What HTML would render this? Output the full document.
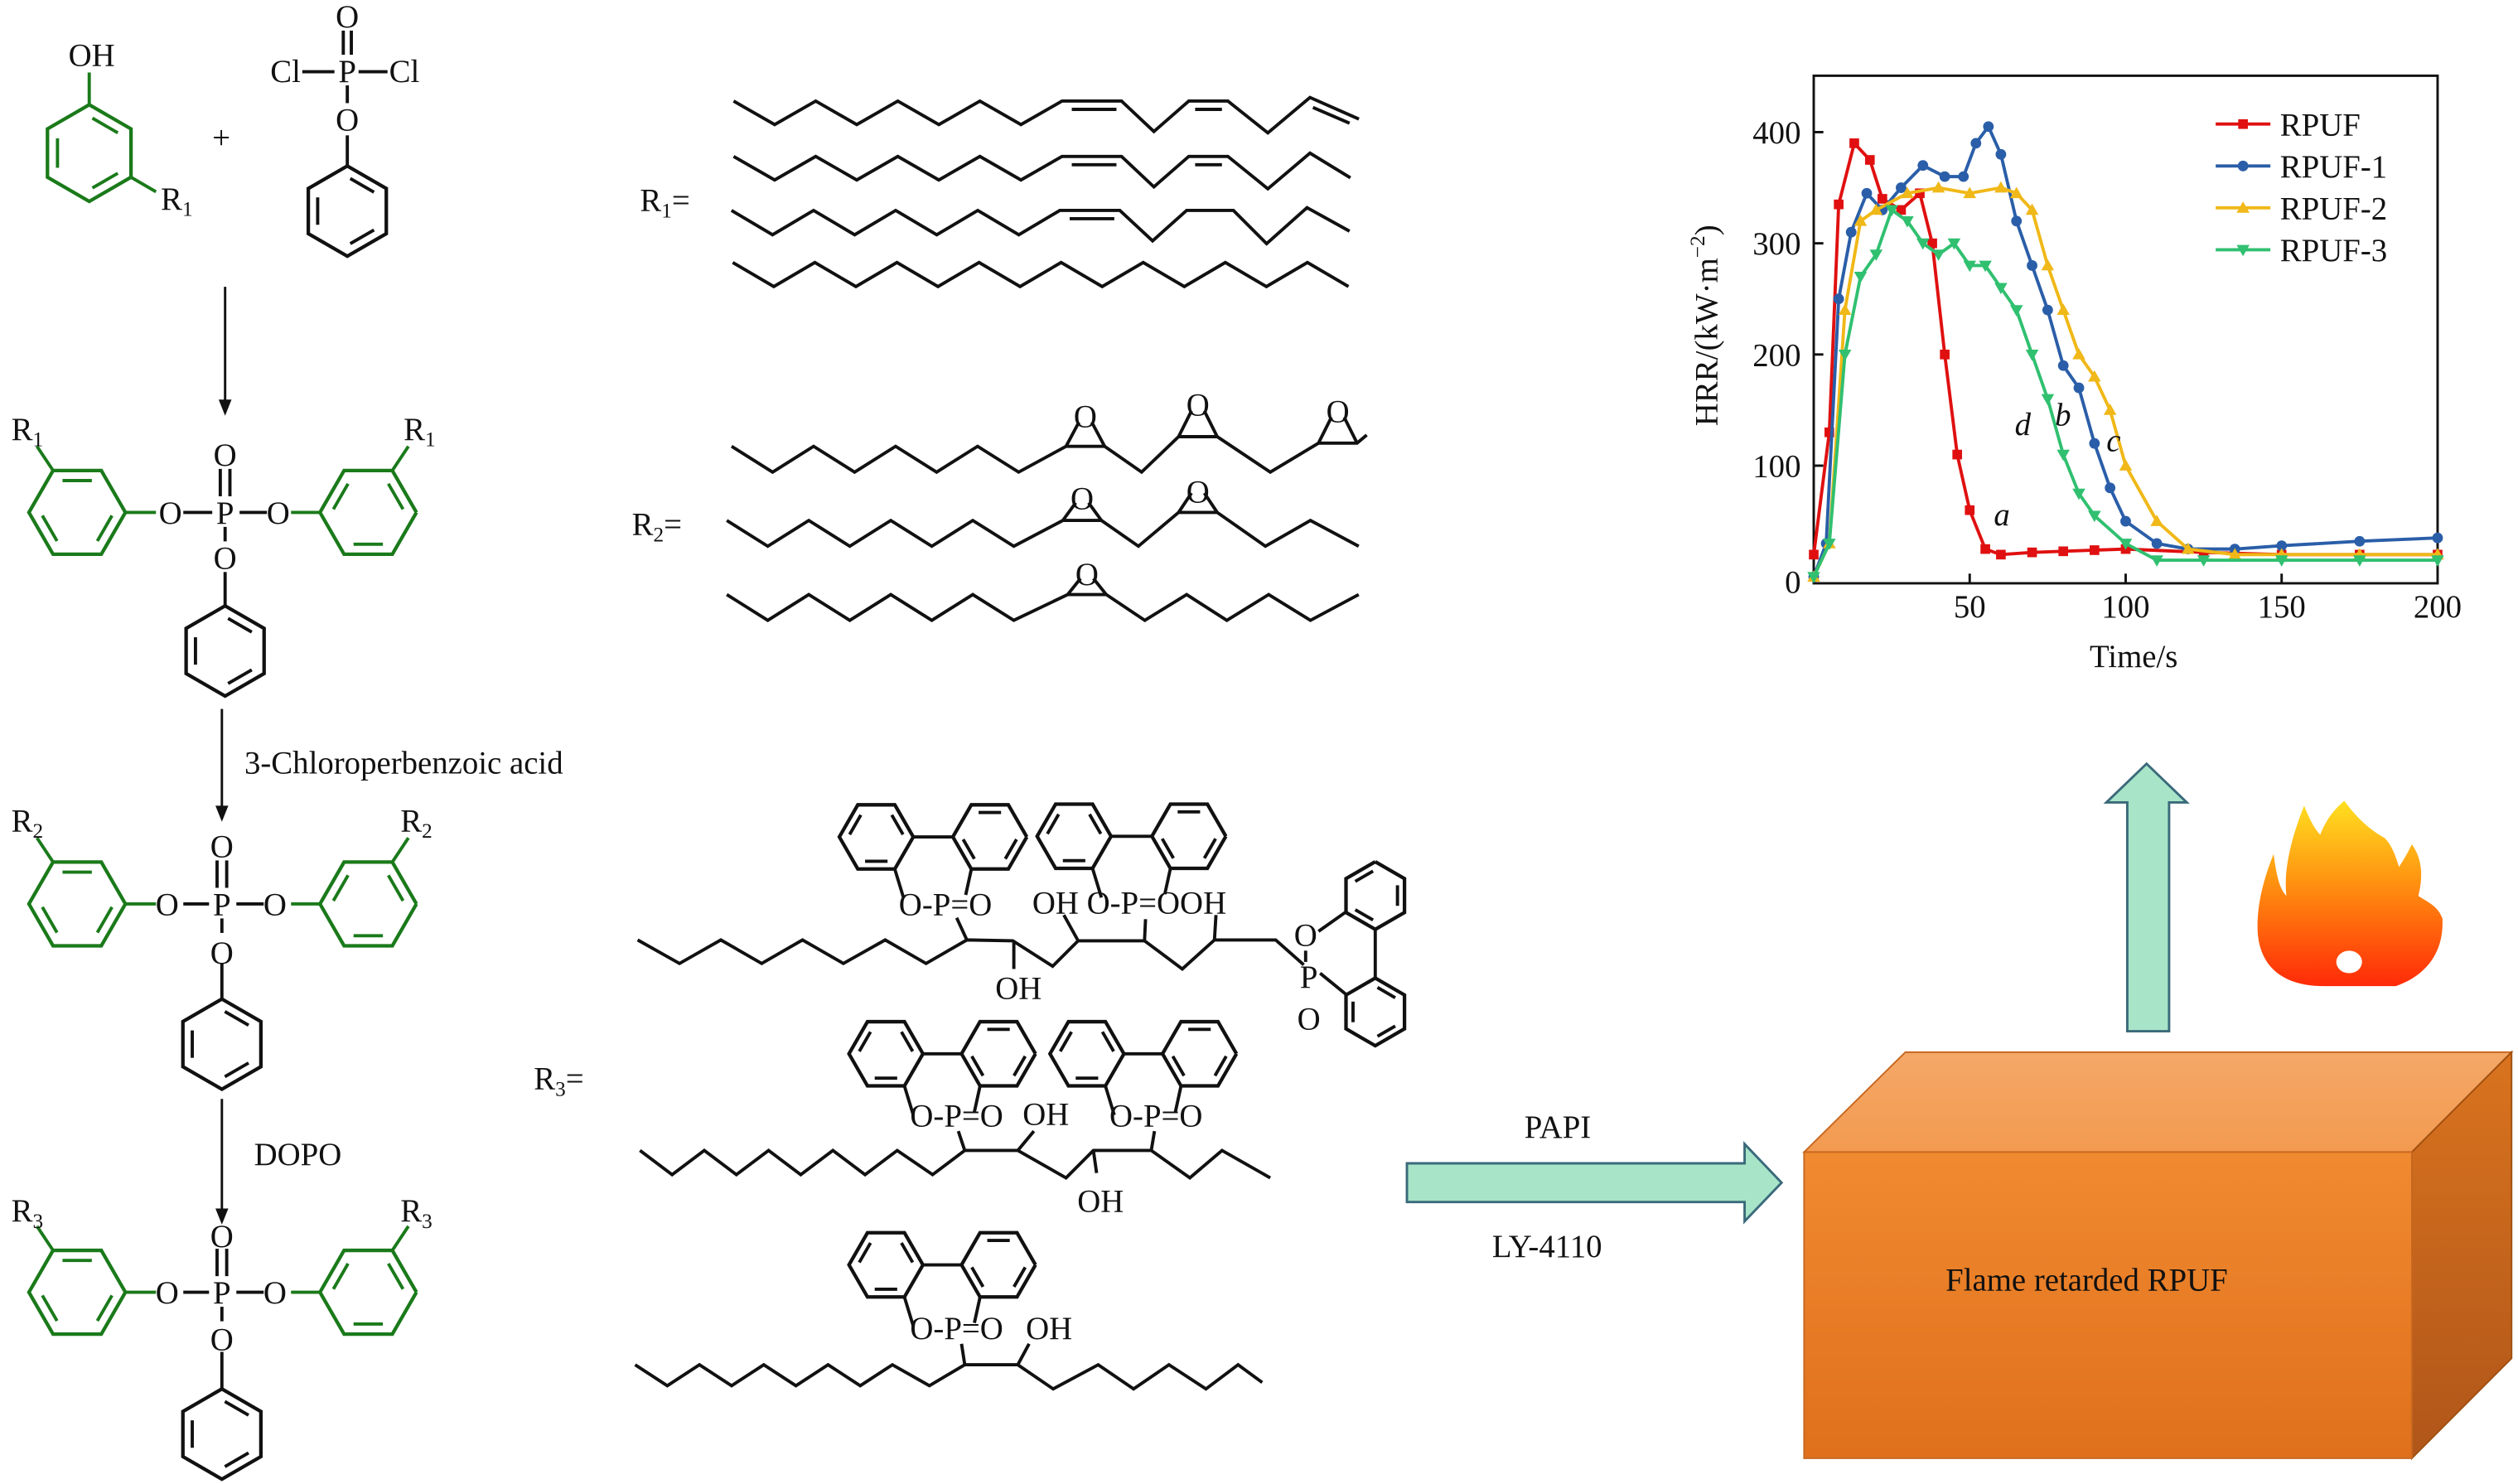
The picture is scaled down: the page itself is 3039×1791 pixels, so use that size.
<!DOCTYPE html>
<html><head><meta charset="utf-8">
<style>
html,body{margin:0;padding:0;background:#fff;}
svg{display:block;}
svg text{font-family:"Liberation Serif",serif;fill:#111;}
</style></head>
<body>
<svg id="s" width="3039" height="1791" viewBox="0 0 1566 921" preserveAspectRatio="none" xmlns="http://www.w3.org/2000/svg" font-family="Liberation Serif, serif">
<defs>
<linearGradient id="gf" x1="0" y1="0" x2="0" y2="1"><stop offset="0" stop-color="#f08a30"/><stop offset="1" stop-color="#e0701c"/></linearGradient>
<linearGradient id="gt" x1="0" y1="0" x2="0" y2="1"><stop offset="0" stop-color="#f4a868"/><stop offset="1" stop-color="#f39a50"/></linearGradient>
<linearGradient id="gs" x1="0" y1="0" x2="0" y2="1"><stop offset="0" stop-color="#d9731e"/><stop offset="1" stop-color="#b0561a"/></linearGradient>
<linearGradient id="fl" x1="0" y1="0" x2="0" y2="1"><stop offset="0" stop-color="#ffe020"/><stop offset="0.45" stop-color="#ff9010"/><stop offset="1" stop-color="#ff2a08"/></linearGradient>
</defs>
<g id="g"></g>
<g font-size="20" font-family="Liberation Serif, serif">
<text x="57" y="41" text-anchor="middle">OH</text>
<text x="100" y="130">R<tspan font-size="13" dy="4">1</tspan></text>
<text x="132" y="92">+</text>
<text x="187" y="51" text-anchor="end">Cl</text>
<text x="216" y="17" text-anchor="middle">O</text>
<text x="216" y="51" text-anchor="middle">P</text>
<text x="242" y="51">Cl</text>
<text x="216" y="81" text-anchor="middle">O</text>

<text x="152" y="480">3-Chloroperbenzoic acid</text>
<text x="158" y="723">DOPO</text>

<text x="398" y="131">R<tspan font-size="13" dy="4">1</tspan><tspan dy="-4">=</tspan></text>
<text x="393" y="332">R<tspan font-size="13" dy="4">2</tspan><tspan dy="-4">=</tspan></text>
<text x="332" y="676">R<tspan font-size="13" dy="4">3</tspan><tspan dy="-4">=</tspan></text>

<text x="675" y="265" text-anchor="middle">O</text><text x="745" y="258" text-anchor="middle">O</text><text x="832" y="262" text-anchor="middle">O</text>
<text x="673" y="316" text-anchor="middle">O</text><text x="745" y="312" text-anchor="middle">O</text>
<text x="676" y="363" text-anchor="middle">O</text>

<text x="559" y="568">O-P=O</text>
<text x="642" y="567">OH O-P=OOH</text>
<text x="619" y="620">OH</text>
<text x="812" y="587" text-anchor="middle">O</text><text x="814" y="613" text-anchor="middle">P</text><text x="814" y="639" text-anchor="middle">O</text>
<text x="566" y="699">O-P=O</text>
<text x="636" y="698">OH</text>
<text x="690" y="699">O-P=O</text>
<text x="670" y="752">OH</text>
<text x="566" y="831">O-P=O</text>
<text x="638" y="831">OH</text>

<text x="948" y="706">PAPI</text>
<text x="928" y="780">LY-4110</text>
<text x="1210" y="801">Flame retarded RPUF</text>
</g>
<g font-size="20" font-family="Liberation Serif, serif">
<text x="1120" y="89" text-anchor="end">400</text>
<text x="1120" y="158" text-anchor="end">300</text>
<text x="1120" y="227" text-anchor="end">200</text>
<text x="1120" y="296" text-anchor="end">100</text>
<text x="1120" y="368" text-anchor="end">0</text>
<text x="1225" y="383" text-anchor="middle">50</text>
<text x="1322" y="383" text-anchor="middle">100</text>
<text x="1419" y="383" text-anchor="middle">150</text>
<text x="1516" y="383" text-anchor="middle">200</text>
<text x="1327" y="414" text-anchor="middle">Time/s</text>
<text transform="translate(1068,202) rotate(-90)" text-anchor="middle">HRR/(kW·m<tspan font-size="13" dy="-8">−2</tspan><tspan dy="8">)</tspan></text>
<text x="1418" y="84">RPUF</text>
<text x="1418" y="110">RPUF-1</text>
<text x="1418" y="136">RPUF-2</text>
<text x="1418" y="162">RPUF-3</text>
<g font-style="italic"><text x="1240" y="326">a</text><text x="1278" y="264">b</text><text x="1310" y="280">c</text><text x="1253" y="270">d</text></g>
</g>
<g font-size="20" font-family="Liberation Serif, serif">
<text x="7" y="273">R<tspan font-size="13" dy="4">1</tspan></text><text x="251" y="273">R<tspan font-size="13" dy="4">1</tspan></text>
<text x="140" y="289" text-anchor="middle">O</text><text x="106" y="325" text-anchor="middle">O</text><text x="140" y="325" text-anchor="middle">P</text><text x="173" y="325" text-anchor="middle">O</text><text x="140" y="353" text-anchor="middle">O</text>
<text x="7" y="516">R<tspan font-size="13" dy="4">2</tspan></text><text x="249" y="516">R<tspan font-size="13" dy="4">2</tspan></text>
<text x="138" y="532" text-anchor="middle">O</text><text x="104" y="568" text-anchor="middle">O</text><text x="138" y="568" text-anchor="middle">P</text><text x="171" y="568" text-anchor="middle">O</text><text x="138" y="598" text-anchor="middle">O</text>
<text x="7" y="758">R<tspan font-size="13" dy="4">3</tspan></text><text x="249" y="758">R<tspan font-size="13" dy="4">3</tspan></text>
<text x="138" y="774" text-anchor="middle">O</text><text x="104" y="809" text-anchor="middle">O</text><text x="138" y="809" text-anchor="middle">P</text><text x="171" y="809" text-anchor="middle">O</text><text x="138" y="838" text-anchor="middle">O</text>
</g>
</svg>
<script>
var g=document.getElementById('g'),NS='http://www.w3.org/2000/svg';
function el(t,a){var e=document.createElementNS(NS,t);for(var k in a)e.setAttribute(k,a[k]);g.appendChild(e);return e;}
function ln(x1,y1,x2,y2,c,w){el('line',{x1:x1,y1:y1,x2:x2,y2:y2,stroke:c||'#111','stroke-width':w||2});}
function pl(pts,c,w,f){el('polyline',{points:pts.map(p=>p.join(',')).join(' '),stroke:c||'#111','stroke-width':w||2,fill:f||'none','stroke-linejoin':'miter'});}
function ring(cx,cy,r,c,flat,start){var v=[],o=flat?0:-90;for(var i=0;i<6;i++){var a=(o+60*i)*Math.PI/180;v.push([cx+r*Math.cos(a),cy+r*Math.sin(a)]);}
 var vv=v.slice();vv.push(v[0]);pl(vv,c,2.2);
 for(var j=0;j<3;j++){var i=((start||0)+2*j)%6;var a=v[i],b=v[(i+1)%6],k=0.76;var ax=cx+(a[0]-cx)*k,ay=cy+(a[1]-cy)*k,bx=cx+(b[0]-cx)*k,by=cy+(b[1]-cy)*k;
  ln(ax+(bx-ax)*0.1,ay+(by-ay)*0.1,ax+(bx-ax)*0.9,ay+(by-ay)*0.9,c,2);}return v;}
function arrowDown(x,y1,y2){ln(x,y1,x,y2-8,'#111',1.5);el('polygon',{points:(x-4)+','+(y2-10)+' '+(x+4)+','+(y2-10)+' '+x+','+y2,fill:'#111'});}
var G='#1a7a1a';
ring(55.5,95,30,G,false,0);ln(55.5,45,55.5,65,G);ln(81.5,110,97,119,G);
ln(188,44.5,208,44.5);ln(223,44.5,241,44.5);ln(213.5,19,213.5,34);ln(218.5,19,218.5,34);ln(216,53,216,64);ln(216,84,216,103);
ring(216,131,28,'#111',false,0);
arrowDown(140,178,258);
function struct(y,px,by){ring(48,y,30,G,true,0);ring(229,y,30,G,true,1);
 ln(78,y,97,y,G);ln(114,y,px-8,y);ln(px+9,y,px+26,y);ln(181,y,199,y,G);
 ln(33,y-26,23,y-41,G);ln(244,y-26,254,y-41,G);
 ln(px-3,y-27,px-3,y-10);ln(px+3,y-27,px+3,y-10);ln(px,y+9,px,y+18);ln(px,y+37,px,by-28);ring(px,by,28,'#111',false,0);}
struct(318,140,404);struct(561,138,648);struct(802,138,890);
arrowDown(138,440,510);arrowDown(138,682,760);
function Z(p){return p.map(q=>[453.6+q[0]/3.78,46.4+q[1]/5.82]);}
function zz(start,y0,y1,n){var p=[];for(var i=0;i<n;i++)p.push([start+i*96.5,i%2?y1:y0]);return p;}
var c1=zz(10,95,180,9).concat([[922,95],[998,205],[1080,95],[1172,95],[1266,210],[1365,82],[1480,160]]);pl(Z(c1));
pl(Z([[805,125],[910,125]]));pl(Z([[1095,125],[1158,125]]));pl(Z([[1372,118],[1458,175]]));
var c2=zz(10,295,380,9).concat([[922,295],[998,405],[1080,295],[1172,295],[1266,412],[1365,283],[1460,372]]);pl(Z(c2));
pl(Z([[805,325],[910,325]]));pl(Z([[1095,325],[1158,325]]));
var c3=zz(5,490,578,9).concat([[918,490],[995,600],[1075,490],[1185,490],[1263,610],[1358,480],[1458,565]]);pl(Z(c3));
pl(Z([[800,520],[905,520]]));
pl(Z(zz(8,678,765,16)));
function ep(x,yb,yo){ln(x-12,yb,x-4,yo);ln(x+12,yb,x+4,yo);}
function chainPts(x0,y0,y1,x1){var p=[],i=0;for(var x=x0;x<=x1+0.1;x+=25.5,i++)p.push([x,i%2?y1:y0]);return p;}
var r1=chainPts(455,277,293,650);pl(r1.concat([[663,277],[687,277],[710,293],[733,271],[757,271],[790,293],[820,275],[844,275],[850,270]]));
ep(675,277,262);ep(745,271,255);ep(832,275,259);
var r2=chainPts(452,323,339,647);pl(r2.concat([[661,323],[685,323],[708,339],[733,318],[757,318],[787,339],[815,323],[845,339]]));
ep(673,323,312);ep(745,318,306);
var r3=chainPts(452,369,385,645);pl(r3.concat([[664,369],[688,369],[712,385],[738,369],[763,385],[789,369],[815,385],[845,369]]));
ep(676,369,359);
function W(p){return p.map(q=>[391.8+q[0]/3.15,489.7+q[1]/5.82]);}
pl(W([[15,545],[97,630],[178,545],[258,630],[338,545],[418,630],[500,545],[580,630],[660,545],[750,548],[828,640],[878,548],[1008,548],[1082,650],[1145,545],[1265,545],[1320,635]]));
pl(W([[660,545],[640,465]]));pl(W([[752,548],[752,650]]));pl(W([[878,548],[850,455]]));pl(W([[1008,548],[1010,470]]));pl(W([[1145,545],[1148,455]]));
function dop(ax,bx,cy){ring(ax,cy,23,'#111',true,1);ring(bx,cy,23,'#111',true,0);ln(ax+23,cy,bx-23,cy);
 ln(ax+11.5,cy+20,ax+17,cy+38);ln(bx-11.5,cy+20,bx-15,cy+36);}
dop(545,615.6,519.4);dop(668,739.4,519);
ring(855.3,555.8,21,'#111',false,1);ring(855.3,628,21,'#111',false,0);ln(855.3,576.8,855.3,607);
ln(837,566,820,578);ln(837,617,821,604);ln(812,590,812,597);
pl([[398,714],[418,729],[438,714],[458,729],[478,714],[498,729],[518,714],[538,729],[558,714],[580,729],[600,714],[633,714],[663,731],[680,714],[716,714],[740,731],[760,714],[790,731]]);
pl([[600,714],[596,702]]);pl([[680,714],[682,728]]);pl([[633,714],[643,702]]);pl([[716,714],[718,702]]);
dop(551,621,654);dop(676,746,654);
pl([[395,847],[415,860],[435,847],[455,860],[475,847],[495,860],[515,847],[535,860],[555,847],[578,860],[600,847],[633,847],[655,862],[683,847],[705,862],[727,847],[750,862],[770,847],[785,858]]);
pl([[600,847],[598,834]]);pl([[633,847],[640,834]]);
dop(551,621,785);
el('polygon',{points:'875,722 1085,722 1085,710 1108,734 1085,758 1085,746 875,746',fill:'#a8e4c8',stroke:'#3a6a7a','stroke-width':1.5});
el('polygon',{points:'1323,640 1323,498 1310,498 1335,474 1360,498 1349,498 1349,640',fill:'#a8e4c8',stroke:'#3a6a7a','stroke-width':1.5});
el('polygon',{points:'1122,715 1185,653 1562,653 1500,715',fill:'url(#gt)',stroke:'#c86820','stroke-width':1});
el('polygon',{points:'1500,715 1562,653 1562,843 1500,905',fill:'url(#gs)',stroke:'#a05010','stroke-width':1});
el('rect',{x:1122,y:715,width:378,height:190,fill:'url(#gf)',stroke:'#c86820','stroke-width':1});
el('path',{d:'M1445,612 C1420,612 1404,600 1404,575 C1404,560 1408,545 1414,530 C1416,545 1418,552 1422,556 C1420,540 1425,520 1433,500 C1437,510 1440,515 1443,518 C1447,508 1452,502 1458,497 C1466,508 1474,515 1483,520 C1488,525 1490,532 1492,538 C1496,532 1498,528 1500,524 C1508,535 1506,548 1504,556 C1510,560 1516,562 1519,570 C1520,590 1510,605 1490,612 Z',fill:'url(#fl)'});
el('ellipse',{cx:1461,cy:597,rx:8,ry:7,fill:'#fff'});
el('rect',{x:1128,y:47,width:388,height:315,fill:'none',stroke:'#111','stroke-width':1.5});
[82,151,220,289].forEach(y=>ln(1128,y,1134,y,'#111',1.5));
[1225,1322,1419].forEach(x=>ln(x,362,x,356,'#111',1.5));
function X(t){return 1128+t*1.94;}function Y(v){return 358-v*0.69;}
var D=[['#e01010','s',[[0,20],[5,130],[8,335],[13,390],[18,375],[22,340],[28,330],[34,345],[38,300],[42,200],[46,110],[50,60],[55,25],[60,20],[70,22],[80,23],[90,24],[100,25],[125,22],[150,20],[175,20],[200,20]]],
['#2a5ea8','c',[[0,0],[4,30],[8,250],[12,310],[17,345],[22,330],[28,350],[35,370],[42,360],[48,360],[52,390],[56,405],[60,380],[65,320],[70,280],[75,240],[80,190],[85,170],[90,120],[95,80],[100,50],[110,30],[120,25],[135,25],[150,28],[175,32],[200,35]]],
['#f0b818','t',[[0,0],[5,30],[10,240],[15,320],[20,330],[30,345],[40,350],[50,345],[60,350],[65,345],[70,330],[75,280],[80,240],[85,200],[90,180],[95,150],[100,100],[110,50],[120,25],[135,20],[150,20],[175,20],[200,20]]],
['#30c070','v',[[0,0],[5,30],[10,200],[15,270],[20,290],[25,330],[30,320],[35,300],[40,290],[45,300],[50,280],[55,280],[60,260],[65,240],[70,200],[75,160],[80,110],[85,75],[90,55],[100,30],[110,15],[125,15],[150,15],[175,15],[200,15]]]];
D.forEach(function(d,i){var p=d[2].map(q=>[X(q[0]),Y(q[1])]);pl(p,d[0],2);
 function mk(x,y){if(d[1]=='s')el('rect',{x:x-3,y:y-3,width:6,height:6,fill:d[0]});else if(d[1]=='c')el('circle',{cx:x,cy:y,r:3.3,fill:d[0]});else if(d[1]=='t')el('polygon',{points:(x-4)+','+(y+3)+' '+(x+4)+','+(y+3)+' '+x+','+(y-4),fill:d[0]});else el('polygon',{points:(x-4)+','+(y-3)+' '+(x+4)+','+(y-3)+' '+x+','+(y+4),fill:d[0]});}
 p.forEach(q=>mk(q[0],q[1]));
 var ly=77+i*26;ln(1378,ly,1412,ly,d[0],2);mk(1395,ly);});
</script>
</body></html>
